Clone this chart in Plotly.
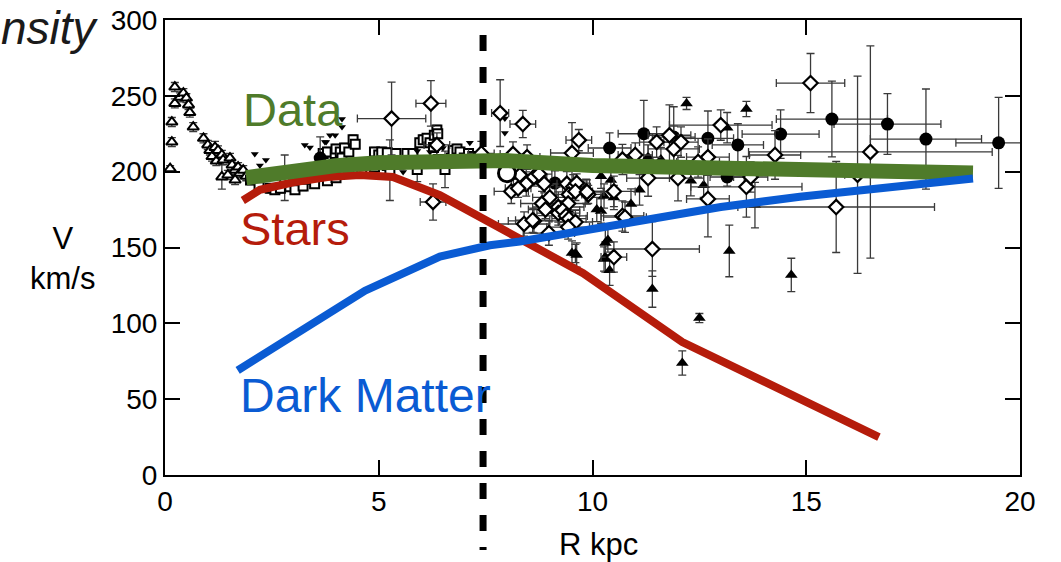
import plotly.graph_objects as go

# ---------------- data ----------------
# inner open triangles (R kpc, V km/s, V error)
tri_r = [0.12, 0.16, 0.16, 0.23, 0.23, 0.35, 0.43, 0.5, 0.55, 0.58, 0.66, 0.9, 1.0, 1.05, 1.1, 1.17, 1.2, 1.24,
         1.33, 1.36, 1.52, 1.57, 1.64, 1.71, 1.75, 1.33, 1.47, 1.64, 1.83, 1.9]
tri_v = [202, 219.5, 232.7, 255.8, 245, 249, 251.8, 248.5, 244, 239, 229.4, 222, 217.6, 214, 210, 216, 207, 214,
         211, 207.7, 209, 204.4, 201, 203, 199, 196.5, 197.8, 194.5, 201, 197]
tri_ev = [2, 3, 3, 3, 3, 3, 3, 3, 3, 3, 3, 3, 3, 3, 3, 4, 3, 3,
          3, 3, 3, 3, 3, 3, 3, 8, 3, 3, 3, 3]

# open squares
sq_r = [2.0, 2.2, 2.46, 2.57, 2.7, 2.92, 3.04, 3.23, 3.3, 3.5, 3.6, 3.7, 3.8, 3.8, 3.98, 4.0, 4.0, 4.1, 4.1, 4.14,
        4.2, 4.3, 4.3, 4.4, 4.45, 4.6, 4.9, 4.9, 5.0, 5.07, 5.2, 5.2, 5.4, 5.5, 5.66, 5.8, 5.8, 5.96, 6.04, 6.1,
        6.13, 6.2, 6.28, 6.3, 6.36, 6.38, 6.4, 6.7, 6.74, 6.83, 6.9, 7.0, 7.1, 7.2, 7.3,
        2.8, 5.26, 5.9, 6.55]
sq_v = [194.5, 190, 189, 188, 189, 190, 188, 190.5, 195, 192, 197, 212, 194, 213, 212, 196, 215, 205, 213, 209,
        215.6, 199, 213, 221, 218, 201, 203, 213, 211, 213, 204, 212.5, 212, 205, 212, 206, 212, 219, 221, 207,
        222, 219, 216, 224, 227.5, 225, 208, 209, 214, 215, 213, 209, 212, 210, 208,
        196, 201, 201.5, 201.5]
sq_ev = [3] * 55 + [15, 20, 8, 12]

# small filled down-triangles
dt_r = [2.1, 2.22, 2.36, 3.27, 3.39, 3.74, 3.77, 3.86, 3.98, 4.14, 4.14, 4.7, 5.57, 5.6, 5.9, 6.2, 6.5, 7.13, 7.95, 7.95]
dt_v = [211.6, 204, 207.7, 217.6, 216, 219.5, 219.5, 224, 224, 234.7, 229.4, 205, 199.8, 209, 213.6, 213, 215.6, 219, 235, 225.5]

# filled circles (R, V, R error, V error)
fc_r = [3.63, 9.12, 10.4, 11.2, 11.9, 12.7, 13.4, 14.4, 15.6, 16.9, 17.8, 19.5, 13.15]
fc_v = [209, 192.5, 215.6, 225, 222.8, 222, 217.6, 224.8, 234.7, 231.4, 221.5, 219, 196.5]
fc_ex = [0, 0.3, 0.5, 0.6, 0.5, 0.6, 0.6, 0.9, 1.3, 1.25, 1.3, 1.0, 0.4]
fc_ev = [14, 8, 10, 22, 20, 18, 14, 16, 25, 20, 33, 30, 6]

# filled up-triangles
ft_r = [12.2, 13.6, 11.3, 11.6, 13.15, 10.2, 10.43, 11.1, 10.27, 10.5, 10.9, 10.2, 12.3, 12.6, 9.43, 10.3,
        10.3, 10.36, 9.52, 9.63, 10.27, 10.4, 11.4, 13.2, 12.5, 12.1, 13.8, 14.65, 10.1, 9.6]
ft_v = [245, 241.3, 209.6, 208, 229, 197, 194.5, 188, 184, 183, 178.7, 174, 194, 191, 174.7, 153,
        143.7, 155, 146.4, 145, 142.4, 135, 122.6, 147.7, 103.5, 73.8, 178, 131.9, 175, 146]
ft_ev = [4, 5, 8, 8, 10, 8, 8, 10, 8, 8, 10, 8, 10, 8, 8, 10,
         10, 8, 8, 8, 8, 10, 12, 17, 3, 8, 15, 11, 8, 6]

# open diamonds (R, V, R error, V error)
dm_r = [5.3, 6.22, 6.36, 6.27, 7.4, 7.84, 8.37, 8.14, 8.47, 9.52, 9.68, 10.7, 11.0, 11.5, 11.8, 11.9, 12.07,
        12.7, 13.0, 8.3, 8.45, 8.1, 8.26, 8.63, 8.75, 8.87, 9.4, 9.55, 9.63, 9.85, 9.9, 9.45, 9.6, 8.82, 9.2,
        9.43, 9.2, 9.3, 9.38, 9.45, 9.6, 9.43, 8.98, 8.63, 8.4, 10.7, 10.5, 9.87, 10.76, 10.5, 11.3, 12.0,
        12.7, 13.6, 13.7, 14.27, 11.4, 15.1, 16.5, 15.7, 16.2, 8.6, 9.0, 8.9, 12.47]
dm_v = [235, 245, 217.6, 180, 212, 238.6, 231.4, 211.6, 209.6, 212.3, 220.8, 208, 211, 219.5, 224, 215, 219.5,
        209.6, 230.7, 197.8, 191.9, 187, 189, 196.5, 198.4, 192, 192, 190, 192.5, 187, 185, 185, 187, 179, 176.7,
        179, 172.7, 174.5, 170.8, 169, 166.8, 163.5, 159.5, 167.5, 165.5, 170.8, 187, 186.6, 170, 143.7, 195.8, 195.8,
        182, 190, 196.5, 211, 149, 258.4, 213, 176.7, 198, 168, 183, 175, 206.4]
dm_ex = [0.8, 0.35, 0.3, 0.3, 0.3, 0.2, 0.3, 0.3, 0.3, 0.5, 0.3, 0.3, 0.4, 0.4, 0.5, 0.6, 0.4,
         0.5, 1.2, 0.3, 0.3, 0.4, 0.3, 0.3, 0.3, 0.3, 0.4, 0.4, 0.3, 0.4, 0.3, 0.3, 0.3, 0.5, 0.6,
         0.4, 0.5, 0.4, 0.5, 0.4, 0.4, 0.5, 0.6, 0.6, 0.6, 0.5, 0.5, 0.4, 0.5, 0.3, 0.5, 0.6,
         0.5, 1.3, 0.4, 0.6, 1.1, 0.8, 2.85, 2.3, 0.3, 0.4, 0.4, 0.4, 0.5]
dm_ev = [24, 15, 8, 12, 8, 22, 9, 8, 8, 20, 7, 10, 8, 10, 20, 15, 10,
         12, 10, 8, 8, 8, 6, 6, 6, 6, 8, 8, 6, 8, 6, 6, 6, 8, 10,
         8, 8, 6, 8, 8, 8, 8, 8, 8, 8, 10, 10, 8, 10, 10, 12, 15,
         25, 20, 10, 16, 18, 19.5, 70, 30, 65, 8, 8, 6, 10]

# Sun position
sun_r = [8.0]
sun_v = [199]

# model curves
data_r = [1.9, 3.0, 4.0, 5.0, 6.0, 7.0, 8.0, 10.0, 12.0, 13.45, 16.0, 18.9]
data_v = [196, 201, 204, 205.8, 207, 207.6, 207.3, 204, 202.5, 201.4, 200.2, 199.2]
stars_r = [1.82, 2.22, 3.0, 3.8, 4.56, 5.33, 6.43, 8.77, 9.78, 12.1, 16.7]
stars_v = [181, 188, 193, 196.5, 197.8, 196.5, 184.5, 148, 133, 87.7, 25]
dm_curve_r = [1.7, 4.68, 6.43, 7.6, 8.3, 10.9, 13.0, 14.85, 18.9]
dm_curve_v = [69, 121.5, 144, 151.5, 154, 167, 176.7, 183.5, 195.5]

sun_distance = 7.44

x_ticks = [0, 5, 10, 15, 20]
y_ticks = [0, 50, 100, 150, 200, 250, 300]

# ---------------- styling ----------------
GREEN = "#4f7b2a"
RED = "#b51c0b"
BLUE = "#0a5bd3"
FONT = "Liberation Sans, Arial, Helvetica, sans-serif"
EBAR = "#3a3a3a"

W, H = 1061, 562
ML, MR, MT, MB = 165, 41, 20, 87
PW, PH = W - ML - MR, H - MT - MB


def px_x(px):
    return (px - ML) / PW


def px_y(py):
    return (MT + PH - py) / PH


def err(arr, w=4):
    return dict(type="data", array=arr, visible=True, color=EBAR, thickness=1.3, width=w)


fig = go.Figure()

fig.add_trace(go.Scatter(x=tri_r, y=tri_v, mode="markers", error_y=err(tri_ev, 4),
                         marker=dict(symbol="triangle-up", size=10, color="white",
                                     line=dict(color="black", width=2))))
fig.add_trace(go.Scatter(x=sq_r, y=sq_v, mode="markers", error_y=err(sq_ev, 4),
                         marker=dict(symbol="square", size=9, color="white",
                                     line=dict(color="black", width=2))))
fig.add_trace(go.Scatter(x=dt_r, y=dt_v, mode="markers",
                         marker=dict(symbol="triangle-down", size=7, color="black")))
fig.add_trace(go.Scatter(x=fc_r, y=fc_v, mode="markers", error_x=err(fc_ex), error_y=err(fc_ev),
                         marker=dict(symbol="circle", size=13, color="black")))
fig.add_trace(go.Scatter(x=ft_r, y=ft_v, mode="markers", error_y=err(ft_ev),
                         marker=dict(symbol="triangle-up", size=11, color="black")))
fig.add_trace(go.Scatter(x=dm_r, y=dm_v, mode="markers", error_x=err(dm_ex), error_y=err(dm_ev),
                         marker=dict(symbol="diamond", size=11, color="white",
                                     line=dict(color="black", width=2.2))))
fig.add_trace(go.Scatter(x=sun_r, y=sun_v, mode="markers",
                         marker=dict(symbol="circle", size=17, color="white",
                                     line=dict(color="black", width=3))))

fig.add_trace(go.Scatter(x=stars_r, y=stars_v, mode="lines", line=dict(color=RED, width=8)))
fig.add_trace(go.Scatter(x=data_r, y=data_v, mode="lines", line=dict(color=GREEN, width=15)))
fig.add_trace(go.Scatter(x=dm_curve_r, y=dm_curve_v, mode="lines", line=dict(color=BLUE, width=8)))

# vertical dashed line at the Sun's radius
fig.add_shape(type="line", xref="x", yref="paper", x0=sun_distance, x1=sun_distance,
              y0=px_y(35), y1=px_y(550), line=dict(color="black", width=7, dash="16px,16px"),
              layer="above")

axis_common = dict(showline=True, linewidth=2, linecolor="black", mirror="ticks",
                   ticks="inside", ticklen=15, tickwidth=2, tickcolor="black",
                   showgrid=False, zeroline=False, automargin=False,
                   tickfont=dict(family=FONT, size=28, color="black"))

fig.update_xaxes(range=[0, 20], tickvals=x_ticks, ticktext=[str(t) for t in x_ticks], **axis_common)
fig.update_yaxes(range=[0, 300], tickvals=y_ticks, ticktext=[str(t) for t in y_ticks], **axis_common)

annotations = [
    dict(text="nsity", x=px_x(101), y=px_y(28), xanchor="right", yanchor="middle",
         font=dict(family=FONT, size=46, color="#1a1a1a", style="italic")),
    dict(text="Data", x=px_x(241), y=px_y(110), xanchor="left", yanchor="middle",
         font=dict(family=FONT, size=47, color=GREEN)),
    dict(text="Stars", x=px_x(238), y=px_y(228), xanchor="left", yanchor="middle",
         font=dict(family=FONT, size=47, color=RED)),
    dict(text="Dark Matter", x=px_x(238), y=px_y(395), xanchor="left", yanchor="middle",
         font=dict(family=FONT, size=48, color=BLUE)),
    dict(text="V<br>km/s", x=px_x(62), y=px_y(258), xanchor="center", yanchor="middle",
         font=dict(family=FONT, size=31, color="black")),
    dict(text="R kpc", x=px_x(598), y=px_y(544), xanchor="center", yanchor="middle",
         font=dict(family=FONT, size=31, color="black")),
]
for a in annotations:
    a.update(xref="paper", yref="paper", showarrow=False)

fig.update_layout(
    template="none",
    width=W, height=H,
    margin=dict(l=ML, r=MR, t=MT, b=MB, autoexpand=False),
    paper_bgcolor="white", plot_bgcolor="white",
    showlegend=False,
    annotations=annotations,
    font=dict(family=FONT),
)

fig.write_html("out.html", config={"displayModeBar": False},
               post_script="document.body.style.margin='0';document.body.style.overflow='hidden';")
